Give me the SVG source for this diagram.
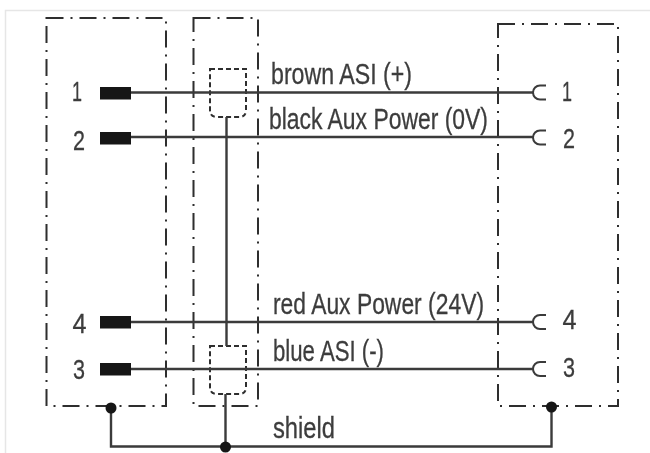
<svg xmlns="http://www.w3.org/2000/svg" width="650" height="453" viewBox="0 0 650 453">
<defs>
<filter id="soft" x="-5%" y="-5%" width="110%" height="110%"><feGaussianBlur stdDeviation="0.45"/></filter>
</defs>
<style>
.box{fill:none;stroke:#2e2e2e;stroke-width:2;stroke-dasharray:17 7 2 7}
.shield{fill:none;stroke:#2e2e2e;stroke-width:2;stroke-dasharray:5 3}
.wire{fill:none;stroke:#3a3a3a;stroke-width:2.400}
.sock{fill:none;stroke:#3a3a3a;stroke-width:2}
.pin{fill:#141414}
.dot{fill:#141414}
text{font-family:"Liberation Sans",Arial,sans-serif;fill:#3c3c3c;stroke:#3c3c3c;stroke-width:0.300}
.num{font-size:28px}
.lab{font-size:29px}
</style>
<rect width="650" height="453" fill="#fff"/>
<path d="M5.500 453V10.500H650" fill="none" stroke="#e6e6e6" stroke-width="1.500"/>
<g filter="url(#soft)">
<g id="left-connector">
<rect class="box" x="46.500" y="18" width="119.500" height="388"/>
<rect class="pin" x="100" y="87" width="31" height="12.500"/>
<rect class="pin" x="100" y="132" width="31" height="12.500"/>
<rect class="pin" x="100" y="316" width="31" height="12.500"/>
<rect class="pin" x="100" y="363" width="31" height="12.500"/>
<text class="num" x="72" y="101" textLength="10" lengthAdjust="spacingAndGlyphs">1</text>
<text class="num" x="73" y="150" textLength="12" lengthAdjust="spacingAndGlyphs">2</text>
<text class="num" x="72.500" y="333" textLength="14" lengthAdjust="spacingAndGlyphs">4</text>
<text class="num" x="73" y="379" textLength="12" lengthAdjust="spacingAndGlyphs">3</text>
</g>
<g id="cable">
<rect class="box" x="193.500" y="18" width="64.500" height="388"/>
<path id="shield-top" class="shield" d="M210 69H246V110Q246 117 239 117H217Q210 117 210 110Z"/>
<path id="shield-bottom" class="shield" d="M210 346H246V387Q246 394 239 394H217Q210 394 210 387Z"/>
</g>
<g id="right-connector">
<rect class="box" x="498" y="24" width="120" height="382"/>
<text class="num" x="562" y="101" textLength="10" lengthAdjust="spacingAndGlyphs">1</text>
<text class="num" x="563" y="148" textLength="12" lengthAdjust="spacingAndGlyphs">2</text>
<text class="num" x="562.500" y="329" textLength="14" lengthAdjust="spacingAndGlyphs">4</text>
<text class="num" x="563" y="377" textLength="12" lengthAdjust="spacingAndGlyphs">3</text>
<path class="sock" d="M546 85.500H540A7 7 0 0 0 540 99.500H546"/>
<path class="sock" d="M546 130.500H540A7 7 0 0 0 540 144.500H546"/>
<path class="sock" d="M546 315H540A7 7 0 0 0 540 329H546"/>
<path class="sock" d="M546 362H540A7 7 0 0 0 540 376H546"/>
</g>
<g id="connectors">
<path class="wire" d="M131 92.500H533"/>
<path class="wire" d="M131 137H533"/>
<path class="wire" d="M131 322H533"/>
<path class="wire" d="M131 369H533"/>
<path class="wire" d="M226.500 117V346"/>
<path class="wire" d="M225.500 394V447"/>
<path class="wire" d="M111 408V446.500H551.500V407"/>
<circle class="dot" cx="111" cy="408" r="5.500"/>
<circle class="dot" cx="225.500" cy="447" r="5.500"/>
<circle class="dot" cx="551.500" cy="407" r="5.500"/>
</g>
<g id="labels">
<text class="lab" x="271" y="84" textLength="141" lengthAdjust="spacingAndGlyphs">brown ASI (+)</text>
<text class="lab" x="269" y="129" textLength="219" lengthAdjust="spacingAndGlyphs">black Aux Power (0V)</text>
<text class="lab" x="273" y="314" textLength="211" lengthAdjust="spacingAndGlyphs">red Aux Power (24V)</text>
<text class="lab" x="273" y="361" textLength="111" lengthAdjust="spacingAndGlyphs">blue ASI (-)</text>
<text class="lab" x="273" y="438" textLength="62" lengthAdjust="spacingAndGlyphs">shield</text>
</g>
</g>
</svg>
